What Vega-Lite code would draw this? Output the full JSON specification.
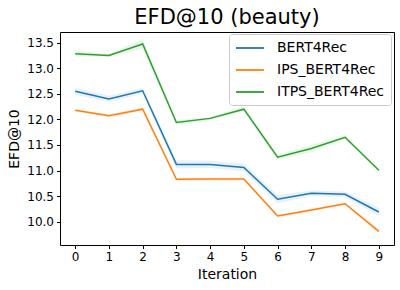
{
  "$schema": "https://vega.github.io/schema/vega-lite/v6.json",
  "autosize": "none",
  "width": 334,
  "height": 213,
  "padding": {"left": 60, "top": 32, "right": 6, "bottom": 45},
  "background": "white",
  "config": {
    "font": "DejaVu Sans",
    "view": {"stroke": "black", "strokeWidth": 1},
    "axis": {
      "domain": false, "grid": false, "tickColor": "black", "tickSize": 3.5,
      "labelColor": "black", "labelFontSize": 12, "labelFont": "DejaVu Sans", "labelOverlap": false,
      "titleFontSize": 14, "titleFontWeight": "normal", "titleColor": "black", "titleFont": "DejaVu Sans"
    },
    "title": {"fontSize": 21, "fontWeight": "normal", "font": "DejaVu Sans", "color": "black", "frame": "group", "anchor": "middle", "offset": 4}
  },
  "title": "EFD@10 (beauty)",
  "data": {"values": [
    {"it": 0, "model": "BERT4Rec", "v": 12.55, "lo": 12.48, "hi": 12.62},
    {"it": 1, "model": "BERT4Rec", "v": 12.40, "lo": 12.34, "hi": 12.46},
    {"it": 2, "model": "BERT4Rec", "v": 12.56, "lo": 12.50, "hi": 12.62},
    {"it": 3, "model": "BERT4Rec", "v": 11.12, "lo": 11.04, "hi": 11.20},
    {"it": 4, "model": "BERT4Rec", "v": 11.12, "lo": 11.05, "hi": 11.19},
    {"it": 5, "model": "BERT4Rec", "v": 11.06, "lo": 10.98, "hi": 11.14},
    {"it": 6, "model": "BERT4Rec", "v": 10.44, "lo": 10.36, "hi": 10.52},
    {"it": 7, "model": "BERT4Rec", "v": 10.555, "lo": 10.50, "hi": 10.61},
    {"it": 8, "model": "BERT4Rec", "v": 10.535, "lo": 10.48, "hi": 10.59},
    {"it": 9, "model": "BERT4Rec", "v": 10.19, "lo": 10.11, "hi": 10.27},
    {"it": 0, "model": "IPS_BERT4Rec", "v": 12.18, "lo": 12.15, "hi": 12.21},
    {"it": 1, "model": "IPS_BERT4Rec", "v": 12.07, "lo": 12.04, "hi": 12.10},
    {"it": 2, "model": "IPS_BERT4Rec", "v": 12.20, "lo": 12.17, "hi": 12.23},
    {"it": 3, "model": "IPS_BERT4Rec", "v": 10.83, "lo": 10.80, "hi": 10.86},
    {"it": 4, "model": "IPS_BERT4Rec", "v": 10.835, "lo": 10.81, "hi": 10.86},
    {"it": 5, "model": "IPS_BERT4Rec", "v": 10.835, "lo": 10.81, "hi": 10.86},
    {"it": 6, "model": "IPS_BERT4Rec", "v": 10.11, "lo": 10.08, "hi": 10.14},
    {"it": 7, "model": "IPS_BERT4Rec", "v": 10.23, "lo": 10.20, "hi": 10.26},
    {"it": 8, "model": "IPS_BERT4Rec", "v": 10.35, "lo": 10.32, "hi": 10.38},
    {"it": 9, "model": "IPS_BERT4Rec", "v": 9.81, "lo": 9.77, "hi": 9.85},
    {"it": 0, "model": "ITPS_BERT4Rec", "v": 13.285, "lo": 13.23, "hi": 13.34},
    {"it": 1, "model": "ITPS_BERT4Rec", "v": 13.25, "lo": 13.22, "hi": 13.28},
    {"it": 2, "model": "ITPS_BERT4Rec", "v": 13.475, "lo": 13.38, "hi": 13.57},
    {"it": 3, "model": "ITPS_BERT4Rec", "v": 11.94, "lo": 11.89, "hi": 11.99},
    {"it": 4, "model": "ITPS_BERT4Rec", "v": 12.02, "lo": 11.99, "hi": 12.05},
    {"it": 5, "model": "ITPS_BERT4Rec", "v": 12.20, "lo": 12.15, "hi": 12.25},
    {"it": 6, "model": "ITPS_BERT4Rec", "v": 11.26, "lo": 11.21, "hi": 11.31},
    {"it": 7, "model": "ITPS_BERT4Rec", "v": 11.43, "lo": 11.36, "hi": 11.50},
    {"it": 8, "model": "ITPS_BERT4Rec", "v": 11.65, "lo": 11.61, "hi": 11.69},
    {"it": 9, "model": "ITPS_BERT4Rec", "v": 11.005, "lo": 10.985, "hi": 11.025}
  ]},
  "encoding": {
    "x": {"field": "it", "type": "quantitative", "title": "Iteration",
      "scale": {"domain": [-0.45, 9.45], "nice": false, "zero": false},
      "axis": {"values": [0,1,2,3,4,5,6,7,8,9], "labelPadding": 3, "titlePadding": 5}},
    "color": {"field": "model", "type": "nominal",
      "scale": {"domain": ["BERT4Rec", "IPS_BERT4Rec", "ITPS_BERT4Rec"], "range": ["#1f77b4", "#ff7f0e", "#2ca02c"]},
      "legend": {
        "title": null, "orient": "none", "legendX": 169, "legendY": 2, "padding": 6, "strokeColor": "#cccccc",
        "fillColor": "white", "cornerRadius": 3, "symbolType": "M-1,0H3", "symbolSize": 196,
        "symbolStrokeWidth": 1.8, "symbolOpacity": 1, "labelFontSize": 14, "labelFont": "DejaVu Sans", "labelColor": "black",
        "labelOffset": 26, "rowPadding": 7
      }}
  },
  "layer": [
    {
      "mark": {"type": "area", "opacity": 0.1},
      "encoding": {
        "y": {"field": "lo", "type": "quantitative", "title": "EFD@10",
          "scale": {"domain": [9.544, 13.709], "nice": false, "zero": false},
          "axis": {"values": [10.0, 10.5, 11.0, 11.5, 12.0, 12.5, 13.0, 13.5], "format": ".1f", "labelPadding": 3, "titlePadding": 5}},
        "y2": {"field": "hi"}
      }
    },
    {
      "mark": {"type": "line", "strokeWidth": 1.5},
      "encoding": {
        "y": {"field": "v", "type": "quantitative", "title": "EFD@10",
          "scale": {"domain": [9.544, 13.709], "nice": false, "zero": false},
          "axis": {"values": [10.0, 10.5, 11.0, 11.5, 12.0, 12.5, 13.0, 13.5], "format": ".1f", "labelPadding": 3, "titlePadding": 5}}
      }
    }
  ]
}
